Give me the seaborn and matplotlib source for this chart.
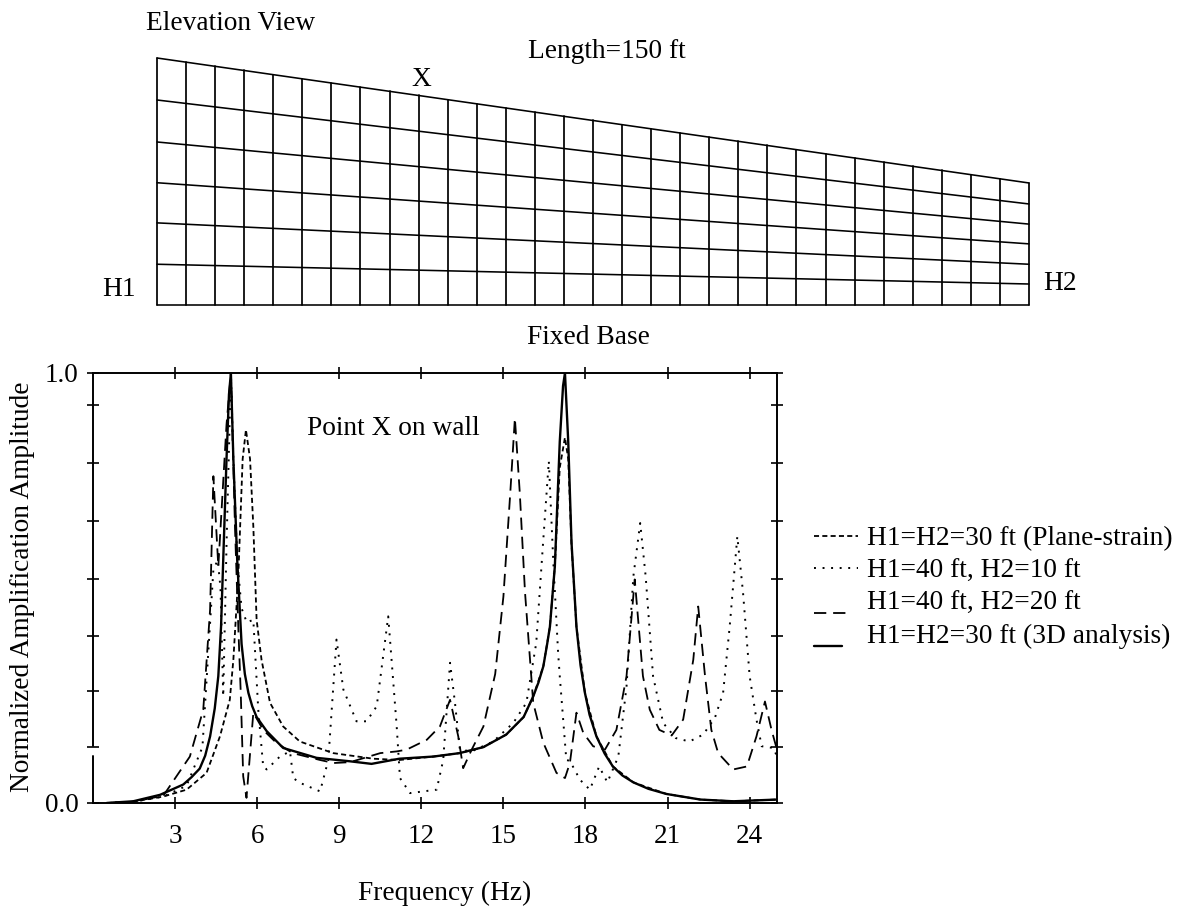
#importing required libraries
import matplotlib
matplotlib.use("Agg")
import matplotlib.pyplot as plt
import seaborn as sns

#values
solid_f = [0.5, 1.47, 2.45, 3.3, 3.6, 3.9, 4.1, 4.28, 4.45, 4.58, 4.68, 4.76, 4.88, 4.97, 5.04, 5.13, 5.27, 5.43, 5.55, 5.68, 5.82, 5.98, 6.35, 6.95, 8.17, 9.39, 10.18, 11.2, 12.44, 13.4, 14.27, 15.1, 15.74, 16.09, 16.28, 16.46, 16.6, 16.7, 16.88, 17.06, 17.18, 17.25, 17.37, 17.49, 17.67, 17.82, 17.98, 18.15, 18.4, 18.7, 19.0, 19.35, 19.75, 20.3, 20.96, 22.2, 23.4, 25.0]
solid_a = [0.0, 0.004, 0.019, 0.043, 0.06, 0.08, 0.11, 0.155, 0.22, 0.295, 0.41, 0.566, 0.8, 0.95, 1.0, 0.8, 0.566, 0.37, 0.3, 0.256, 0.225, 0.2, 0.167, 0.128, 0.105, 0.097, 0.091, 0.103, 0.108, 0.116, 0.13, 0.159, 0.2, 0.248, 0.28, 0.318, 0.37, 0.41, 0.55, 0.84, 0.97, 1.0, 0.84, 0.605, 0.41, 0.32, 0.256, 0.205, 0.155, 0.115, 0.085, 0.064, 0.048, 0.033, 0.021, 0.008, 0.004, 0.008]

plane_f = [0.5, 1.47, 2.57, 3.42, 4.15, 4.64, 5.0, 5.13, 5.31, 5.47, 5.59, 5.74, 5.86, 5.98, 6.16, 6.47, 6.95, 7.56, 8.78, 10.24, 11.2, 12.44, 13.4, 14.27, 15.1, 15.74, 16.09, 16.46, 16.7, 16.88, 17.06, 17.25, 17.37, 17.49, 17.67, 17.98, 18.4, 19.0, 19.75, 20.96, 22.2, 23.4, 25.0]
plane_a = [0.0, 0.003, 0.015, 0.031, 0.07, 0.155, 0.24, 0.333, 0.527, 0.8, 0.868, 0.8, 0.643, 0.426, 0.333, 0.233, 0.178, 0.143, 0.116, 0.103, 0.1, 0.108, 0.116, 0.13, 0.159, 0.2, 0.248, 0.318, 0.41, 0.55, 0.78, 0.85, 0.8, 0.6, 0.41, 0.256, 0.155, 0.085, 0.048, 0.021, 0.008, 0.004, 0.008]

dotted_f = [0.5, 1.47, 2.57, 3.42, 4.0, 4.4, 4.56, 4.66, 4.76, 4.88, 5.04, 5.13, 5.27, 5.43, 5.62, 5.86, 6.04, 6.22, 6.35, 6.83, 7.2, 7.32, 7.56, 8.3, 8.6, 8.9, 9.15, 9.63, 10.0, 10.37, 10.79, 11.1, 11.22, 11.59, 12.56, 12.8, 13.05, 13.23, 13.41, 13.84, 14.63, 15.36, 15.84, 16.2, 16.45, 16.66, 16.82, 17.0, 17.06, 17.3, 17.43, 17.8, 18.16, 18.5, 18.8, 19.2, 19.5, 19.75, 20.0, 20.2, 20.47, 20.84, 21.3, 21.8, 22.3, 22.73, 23.03, 23.27, 23.55, 23.76, 24.0, 24.25, 24.44, 24.87, 25.0]
dotted_a = [0.0, 0.003, 0.015, 0.04, 0.13, 0.543, 0.565, 0.5, 0.248, 0.6, 1.0, 0.8, 0.566, 0.453, 0.42, 0.426, 0.217, 0.085, 0.078, 0.108, 0.12, 0.058, 0.047, 0.027, 0.1, 0.38, 0.264, 0.19, 0.19, 0.225, 0.434, 0.178, 0.058, 0.023, 0.031, 0.1, 0.326, 0.233, 0.124, 0.12, 0.143, 0.186, 0.233, 0.372, 0.605, 0.795, 0.566, 0.349, 0.295, 0.1, 0.098, 0.054, 0.031, 0.085, 0.048, 0.108, 0.271, 0.527, 0.651, 0.527, 0.295, 0.186, 0.151, 0.143, 0.159, 0.198, 0.256, 0.41, 0.62, 0.488, 0.295, 0.194, 0.132, 0.128, 0.108]

longdash_f = [0.5, 1.47, 2.57, 3.54, 4.03, 4.28, 4.4, 4.58, 4.88, 5.04, 5.19, 5.31, 5.4, 5.49, 5.61, 5.86, 6.22, 6.7, 7.3, 8.3, 8.8, 9.4, 10.5, 11.1, 11.46, 12.2, 12.68, 13.05, 13.35, 13.53, 13.84, 14.27, 14.7, 15.0, 15.25, 15.42, 15.6, 15.79, 16.09, 16.46, 16.94, 17.25, 17.43, 17.67, 17.92, 18.28, 18.71, 19.13, 19.5, 19.8, 20.1, 20.35, 20.7, 21.15, 21.57, 21.94, 22.12, 22.37, 22.6, 22.85, 23.4, 23.9, 24.25, 24.56, 24.8, 25.0]
longdash_a = [0.0, 0.003, 0.017, 0.108, 0.217, 0.45, 0.76, 0.55, 0.88, 1.0, 0.64, 0.41, 0.256, 0.062, 0.012, 0.21, 0.17, 0.14, 0.116, 0.1, 0.093, 0.095, 0.116, 0.12, 0.124, 0.147, 0.178, 0.24, 0.155, 0.081, 0.124, 0.178, 0.3, 0.48, 0.72, 0.895, 0.72, 0.49, 0.233, 0.14, 0.07, 0.058, 0.093, 0.21, 0.163, 0.132, 0.124, 0.17, 0.295, 0.52, 0.295, 0.217, 0.17, 0.157, 0.194, 0.333, 0.457, 0.295, 0.17, 0.116, 0.078, 0.085, 0.155, 0.236, 0.17, 0.124]

freq_ticks = [3, 6, 9, 12, 15, 18, 21, 24]
amp_ticks = [0.0, 0.13, 0.26, 0.388, 0.521, 0.656, 0.79, 0.925, 1.0]
amp_labels = ["0.0", "", "", "", "", "", "", "", "1.0"]

#wall mesh in feet
stations = [0, 5, 10, 15, 20, 25, 30, 35, 40, 45, 50, 55, 60, 65, 70, 75, 80, 85, 90, 95, 100, 105, 110, 115, 120, 125, 130, 135, 140, 145, 150]
rows_h1 = [40, 33.2, 26.4, 19.8, 13.3, 6.6, 0]
rows_h2 = [19.76, 16.36, 13.1, 9.9, 6.6, 3.4, 0]

sns.set_theme(style="ticks")
plt.rcParams["font.family"] = ["Liberation Serif", "DejaVu Serif"]
W, H = 1177, 909
fig = plt.figure(figsize=(W / 100, H / 100), dpi=100)

#axes placed by pixel box
def px_axes(left, top, right, bottom):
    return fig.add_axes([left / W, 1 - bottom / H, (right - left) / W, (bottom - top) / H])

#elevation view mesh
mesh = px_axes(157, 58, 1029, 305)
mesh.set_xlim(0, 150)
mesh.set_ylim(0, 40)
mesh.axis("off")
for h1, h2 in zip(rows_h1, rows_h2):
    sns.lineplot(x=[stations[0], stations[-1]], y=[h1, h2], ax=mesh, color="black", linewidth=1.15, clip_on=False)
for s in stations:
    top = rows_h1[0] + (rows_h2[0] - rows_h1[0]) * s / stations[-1]
    sns.lineplot(x=[s, s], y=[0, top], ax=mesh, sort=False, estimator=None, color="black", linewidth=1.25, clip_on=False)

#response curves
ax = px_axes(93, 373, 777, 803)
sns.lineplot(x=plane_f, y=plane_a, ax=ax, sort=False, estimator=None, color="black", linewidth=1.3, linestyle=(0, (2.8, 1.8)), label="H1=H2=30 ft (Plane-strain)")
sns.lineplot(x=dotted_f, y=dotted_a, ax=ax, sort=False, estimator=None, color="black", linewidth=1.4, linestyle=(0, (1, 3.4)), label="H1=40 ft, H2=10 ft")
sns.lineplot(x=longdash_f, y=longdash_a, ax=ax, sort=False, estimator=None, color="black", linewidth=1.3, linestyle=(0, (6.8, 3.8)), label="H1=40 ft, H2=20 ft")
sns.lineplot(x=solid_f, y=solid_a, ax=ax, sort=False, estimator=None, color="black", linewidth=1.7, label="H1=H2=30 ft (3D analysis)")
ax.set_xlim(0, 25)
ax.set_ylim(0, 1)
ax.set_xticks(freq_ticks)
ax.set_yticks(amp_ticks)
ax.set_yticklabels(amp_labels)
ax.tick_params(axis="both", which="major", direction="inout", length=9, width=1.2, color="black",
               top=True, right=True, labelsize=19.5, labelcolor="black")
ax.tick_params(axis="x", pad=10.5)
ax.tick_params(axis="y", pad=6)
for side in ["top", "right", "bottom"]:
    ax.spines[side].set_visible(True)
    ax.spines[side].set_linewidth(1.4)
    ax.spines[side].set_color("black")
#left axis is broken just above the foot
ax.spines["left"].set_visible(False)
ax.axvline(0, ymin=0.132, ymax=1, color="black", linewidth=1.4, clip_on=False)
ax.axvline(0, ymin=0, ymax=0.109, color="black", linewidth=1.4, clip_on=False)
ax.set_xlabel("")
ax.set_ylabel("")

leg = ax.legend(loc="upper left", bbox_to_anchor=((814 - 93) / 684, (803 - 526) / 430), frameon=False,
                fontsize=19.7, handlelength=1.6, handletextpad=0.35, labelspacing=0.27, borderaxespad=0, borderpad=0,
                labelcolor="black")
#last two legend keys sit lower and are shorter
handles = leg.get_lines()
for handle, drop, shrink in [(handles[2], 9, 0.8), (handles[3], 9, 0.65)]:
    xs = handle.get_xdata()
    handle.set_ydata([y - drop for y in handle.get_ydata()])
    handle.set_xdata([xs[0] + (x - xs[0]) * shrink for x in xs])

#free text
def label(x, y, s, size=19.7, **kw):
    fig.text(x / W, 1 - y / H, s, fontsize=size, color="black", ha="center", va="center", **kw)

label(231, 24, "Elevation View")
label(607, 52, "Length=150 ft")
label(421, 80, "X")
label(119, 290, "H1")
label(1060, 284, "H2")
label(588, 338, "Fixed Base")
label(393, 428, "Point X on wall")
label(445, 893, "Frequency (Hz)")
label(23, 587, "Normalized Amplification Amplitude", rotation=90)

fig.savefig("out.png", dpi=100, facecolor="white")
